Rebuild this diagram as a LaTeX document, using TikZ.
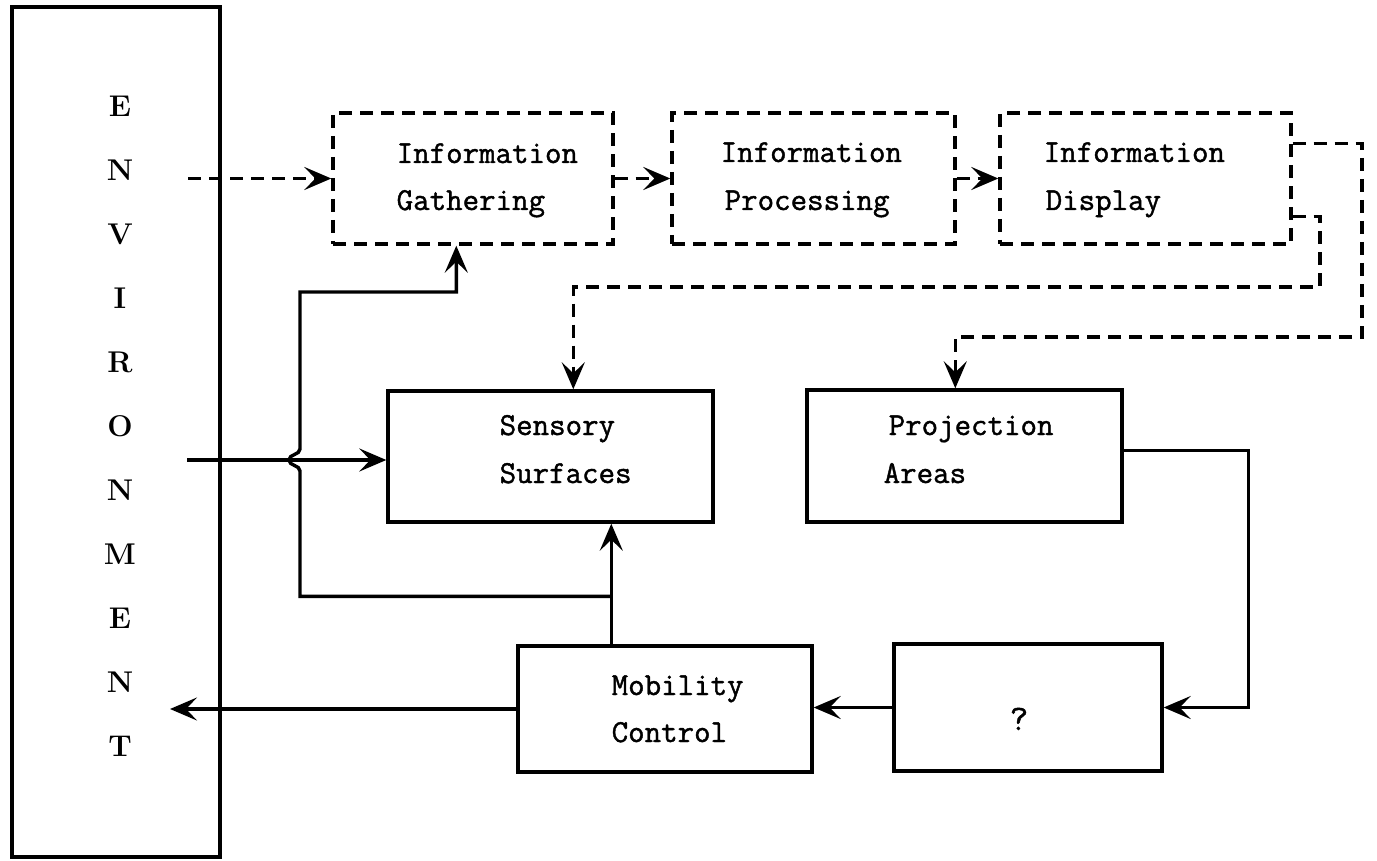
\documentclass[tikz,border=0pt]{standalone}
\usepackage{fontspec}
\usetikzlibrary{arrows.meta,calc}
\newfontfamily\typewriter{Latin Modern Mono}[FakeBold=1.3]
\begin{document}
\begin{tikzpicture}[x=1pt,y=-1pt,
  line width=3.4pt,
  box/.style={draw, rectangle, line width=3.4pt, inner sep=0pt},
  dbox/.style={box, dash pattern=on 13pt off 8pt},
  lbl/.style={font=\fontsize{32}{47}\selectfont\typewriter, anchor=base west, inner sep=0pt},
  conn/.style={line width=3.4pt, -{Stealth[length=27pt,width=23pt,inset=11pt]}},
  dconn/.style={conn, dash pattern=on 13pt off 8pt},
  envletter/.style={font=\fontsize{30}{30}\selectfont\bfseries, inner sep=0pt}
]
\useasboundingbox (0,0) rectangle (1377,861);

% environment column
\node[box, minimum width=208pt, minimum height=850pt] (env) at (116,432) {};
\foreach \ch [count=\k] in {E,N,V,I,R,O,N,M,E,N,T}
  \node[envletter] (envl\k) at (120,{42+64*\k}) {\ch};

% information chain (dashed)
\node[dbox, minimum width=280pt, minimum height=131pt] (IG) at (473,178.5) {};
\node[dbox, minimum width=283pt, minimum height=131pt] (IP) at (813.5,178.5) {};
\node[dbox, minimum width=291pt, minimum height=131pt] (ID) at (1145.5,178.5) {};

% solid blocks
\node[box, minimum width=325pt, minimum height=131pt] (SS) at (550.5,456.5) {};
\node[box, minimum width=315pt, minimum height=132pt] (PA) at (964.5,456) {};
\node[box, minimum width=294pt, minimum height=126pt] (MC) at (665,709) {};
\node[box, minimum width=268pt, minimum height=127pt] (Q) at (1028,707.5) {};

% labels
\node[lbl] (IGa) at (395,163) {Information};
\node[lbl] (IGb) at (395,210) {Gathering};
\node[lbl] (IPa) at (719,162) {Information};
\node[lbl] (IPb) at (723,210) {Processing};
\node[lbl] (IDa) at (1042,162) {Information};
\node[lbl] (IDb) at (1044,210) {Display};
\node[lbl] (SSa) at (498,435) {Sensory};
\node[lbl] (SSb) at (498,483) {Surfaces};
\node[lbl] (PAa) at (887,435) {Projection};
\node[lbl] (PAb) at (882,483) {Areas};
\node[lbl] (MCa) at (610,695) {Mobility};
\node[lbl] (MCb) at (610,742) {Control};
\node[lbl, font=\fontsize{36}{40}\selectfont\typewriter] (Qa) at (1008,730) {?};

% free ends inside the environment column
\coordinate (e1) at (188,178.5);
\coordinate (e2) at (187,460);
\coordinate (e3) at (170,709);

% dashed information flow
\draw[dconn] (e1) -- (IG.west);
\draw[dconn] (IG.east) -- (IP.west);
\draw[dconn] (IP.east) -- (ID.west);
\coordinate (ssIn) at ($(SS.north west)+(187,0)$);
\coordinate (paIn) at ($(PA.north west)+(150,0)$);
\draw[dconn] ($(ID.south east)+(0,-29)$) -| (1320,287) -| (ssIn);
\draw[dconn] ($(ID.north east)+(0,32)$) -| (1362,337) -| (paIn);

% solid flow
\draw[conn] (e2) -- (e2 -| SS.west);
\coordinate (mcUp) at ($(MC.north west)+(95,0)$);
\draw[conn] (mcUp) -- (mcUp |- SS.south);
\coordinate (br) at ($(mcUp)+(0,-48)$);
\coordinate (igIn) at ($(IG.south west)+(125,0)$);
\draw[conn] (br) -| (300,471)
  .. controls (300,465) and (289,466) .. (289,460)
  .. controls (289,454) and (300,455) .. (300,449)
  -- (300,292) -| (igIn);
\draw[conn] ($(PA.north east)!0.46!(PA.south east)$) -| ($(Q.east)+(85,0)$) -- (Q.east);
\draw[conn] (Q.west) -- (Q.west -| MC.east);
\draw[conn] (MC.west) -- (e3);
\end{tikzpicture}
\end{document}
